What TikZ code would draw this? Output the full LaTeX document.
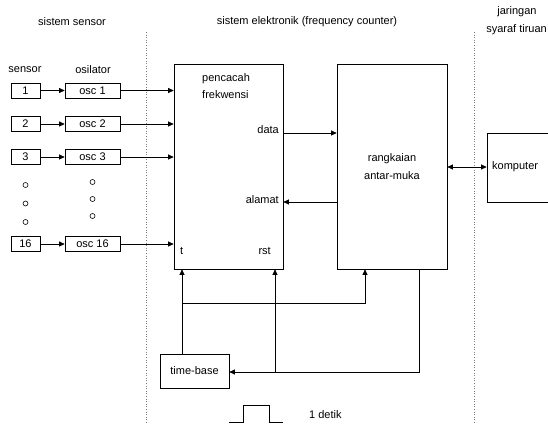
\documentclass[tikz,border=0pt]{standalone}
\usepackage{fontspec}
\setmainfont{Liberation Sans}
\usetikzlibrary{arrows.meta}
\begin{document}
\begin{tikzpicture}[x=1pt,y=-1pt,
  font=\fontsize{11}{13}\selectfont,
  box/.style={draw, line width=0.7pt, inner sep=0pt, minimum height=15pt},
  arr/.style={-{Triangle[length=5.5pt,width=5pt]}, line width=0.7pt},
  darr/.style={{Triangle[length=5.5pt,width=5pt]}-{Triangle[length=5.5pt,width=5pt]}, line width=0.7pt},
  ln/.style={line width=0.7pt},
  sep/.style={dotted, gray, line width=0.6pt},
  dot/.style={draw, circle, minimum size=5pt, inner sep=0pt, line width=0.6pt},
  txt/.style={inner sep=0pt}]
\useasboundingbox (0,0) rectangle (548,424);
\clip (0,0) rectangle (548,424);

% headers
\node[txt] (h1) at (72,22) {sistem sensor};
\node[txt] (h2) at (307,22) {sistem elektronik (frequency counter)};
\node[txt] (h3) at (517,12) {jaringan};
\node[txt, anchor=east] (h4) at (547,30) {syaraf tiruan};

% separators
\coordinate (s1t) at (146,32); \coordinate (s1b) at (146,424);
\coordinate (s2t) at (474,32); \coordinate (s2b) at (474,424);
\draw[sep] (s1t) -- (s1b);
\draw[sep] (s2t) -- (s2b);

% column labels
\node[txt] (ls) at (25,70) {sensor};
\node[txt] (lo) at (93,70) {osilator};

% main blocks
\node[box, minimum width=109pt, minimum height=205pt] (pc) at (228.5,166.5) {};
\node[box, minimum width=110pt, minimum height=205pt] (ri) at (392,166.5) {};
\node[box, minimum width=80pt, minimum height=69pt] (kp) at (527,167.5) {};
\node[box, minimum width=69pt, minimum height=34pt] (tb) at (194.5,371) {time-base};

% texts in blocks
\node[txt, align=left, anchor=north west, font=\fontsize{11}{17}\selectfont] (pct) at (202,73) {pencacah\\frekwensi};
\node[txt, anchor=east] (dt) at (279,130) {data};
\node[txt, anchor=east] (al) at (279,200) {alamat};
\node[txt, anchor=west] (tt) at (180,251) {t};
\node[txt, anchor=east] (rs) at (271,251) {rst};
\node[txt, align=center, font=\fontsize{11}{18}\selectfont] (rit) at (392,167) {rangkaian\\antar-muka};
\node[txt, anchor=west] (kpt) at (492,167) {komputer};

% sensors and oscillators
\foreach \n/\y in {1/90.5, 2/124, 3/157, 16/244} {
  \node[box, minimum width=29pt] (s\n) at (25.5,\y) {\n};
  \node[box, minimum width=55pt] (o\n) at (92.5,\y) {osc \n};
  \draw[arr] (s\n) -- (o\n);
  \draw[arr] (o\n.east) -- (pc.west |- o\n.east);
}
\node[dot] (ds1) at (25.5,185) {};
\node[dot] (ds2) at (25.5,203.5) {};
\node[dot] (ds3) at (25.5,222) {};
\node[dot] (do1) at (92.5,182) {};
\node[dot] (do2) at (92.5,199) {};
\node[dot] (do3) at (92.5,216) {};

% data / alamat / komputer
\draw[arr] (pc.east |- 0,133) -- (ri.west |- 0,133);
\draw[arr] (ri.west |- 0,202) -- (pc.east |- 0,202);
\draw[darr] (ri.east |- 0,167) -- (kp.west |- 0,167);

% time base connections
\coordinate (j1) at (182,303);
\coordinate (j2) at (365,303);
\coordinate (j3) at (419,372);
\coordinate (j4) at (275,372);
\draw[arr] (tb.north -| j1) -- (pc.south -| j1);
\draw[arr] (j1) -- (j2) -- (ri.south -| j2);
\draw[arr] (ri.south -| j3) -- (j3) -- (tb.east |- j3);
\draw[arr] (j4) -- (pc.south -| j4);

% pulse
\draw[ln] (229,422) -- (243,422) -- (243,405) -- (269,405) -- (269,422) -- (283,422);
\node[txt, anchor=west] (det) at (309,415) {1 detik};
\end{tikzpicture}
\end{document}
